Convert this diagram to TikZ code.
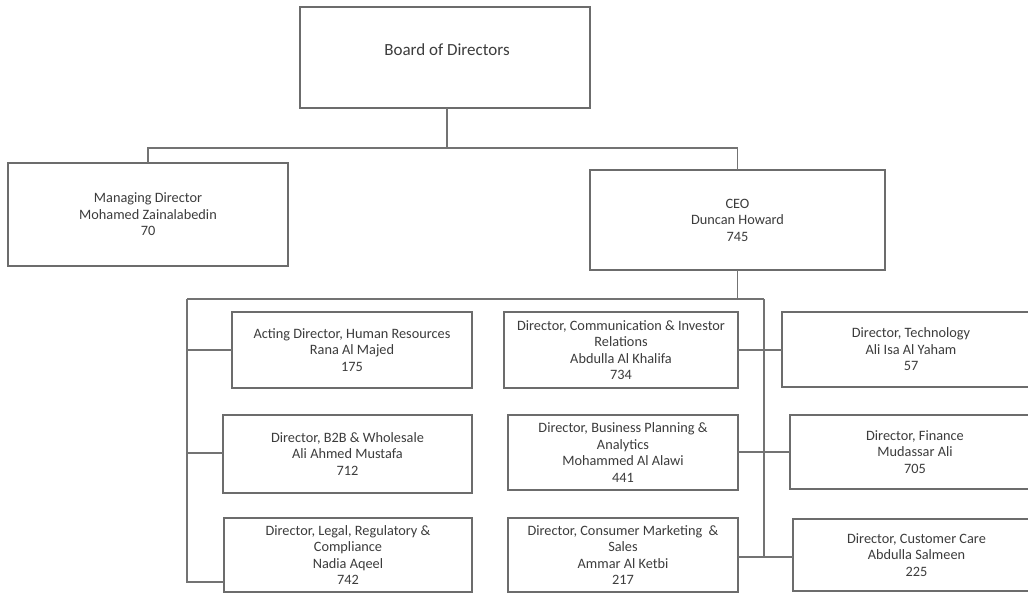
\documentclass[tikz,border=0pt]{standalone}
\usepackage{fontspec}
\setmainfont{Carlito}
\usetikzlibrary{calc}
\definecolor{boxgray}{RGB}{108,108,108}
\definecolor{linegray}{RGB}{115,115,115}
\definecolor{txtgray}{RGB}{60,60,60}
\begin{document}
\begin{tikzpicture}[x=1pt,y=-1pt,
  box/.style={draw=boxgray, line width=2.6pt, fill=white, inner sep=0pt, outer sep=0pt,
    align=center, text=txtgray, font=\fontsize{14.3}{16.5}\selectfont},
  conn/.style={draw=linegray, line width=1.3pt},
  lbl/.style={text=txtgray, inner sep=0pt}]
\useasboundingbox (0,0) rectangle (1028,594);

% boxes
\node[box, minimum width=290pt, minimum height=101pt] (board) at (445,57.5) {};
\node[lbl, font=\fontsize{17}{20}\selectfont] (boardtxt) at (447,50) {Board of Directors};
\node[box, minimum width=280pt, minimum height=103pt] (md) at (148,214.5) {Managing Director\\Mohamed Zainalabedin\\70};
\node[box, minimum width=295pt, minimum height=100pt] (ceo) at (737.5,220) {CEO\\Duncan Howard\\745};

\node[box, minimum width=240pt, minimum height=76pt] (hr) at (352,350) {Acting Director, Human Resources\\Rana Al Majed\\175};
\node[box, minimum width=249pt, minimum height=78pt] (b2b) at (347.5,454) {Director, B2B \& Wholesale\\Ali Ahmed Mustafa\\712};
\node[box, minimum width=248pt, minimum height=74pt] (legal) at (348,555) {Director, Legal, Regulatory \&\\Compliance\\Nadia Aqeel\\742};

\node[box, minimum width=234pt, minimum height=76pt] (comm) at (621,350) {Director, Communication \& Investor\\Relations\\Abdulla Al Khalifa\\734};
\node[box, minimum width=230pt, minimum height=75pt] (bpa) at (623,452.5) {Director, Business Planning \&\\Analytics\\Mohammed Al Alawi\\441};
\node[box, minimum width=230pt, minimum height=74pt] (cms) at (623,555) {Director, Consumer Marketing\ \ \&\\Sales\\Ammar Al Ketbi\\217};

\node[box, minimum width=258pt, minimum height=75pt] (tech) at (911,349.5) {Director, Technology\\Ali Isa Al Yaham\\57};
\node[box, minimum width=250pt, minimum height=74pt] (fin) at (915,452) {Director, Finance\\Mudassar Ali\\705};
\node[box, minimum width=247pt, minimum height=72pt] (cc) at (916.5,555) {Director, Customer Care\\Abdulla Salmeen\\225};

% helper coordinates
\coordinate (topbus) at (0,148);
\coordinate (busL) at (187,299);
\coordinate (busR) at (764,299);
\coordinate (yLegal) at (0,582);
\coordinate (yCms) at (0,557);
\coordinate (yBpa) at (0,452);
\coordinate (yB2b) at (0,453);

% top connectors
\draw[conn] (board.south -| boardtxt.center) -- (boardtxt.center |- topbus);
\draw[conn] (md.north) -- (md.north |- topbus) -- (ceo.north |- topbus) -- (ceo.north);

% CEO to lower bus
\draw[conn] (ceo.south) -- (ceo.south |- busR);
\draw[conn] (busL) -- (busR);

% left bus
\draw[conn] (busL) -- (busL |- yLegal) -- (legal.west |- yLegal);
\draw[conn] (busL |- hr.west) -- (hr.west);
\draw[conn] (busL |- yB2b) -- (b2b.west |- yB2b);

% right bus
\draw[conn] (busR) -- (busR |- yCms);
\draw[conn] (comm.east) -- (tech.west |- comm.east);
\draw[conn] (bpa.east |- yBpa) -- (fin.west |- yBpa);
\draw[conn] (cms.east |- yCms) -- (cc.west |- yCms);
\end{tikzpicture}
\end{document}
